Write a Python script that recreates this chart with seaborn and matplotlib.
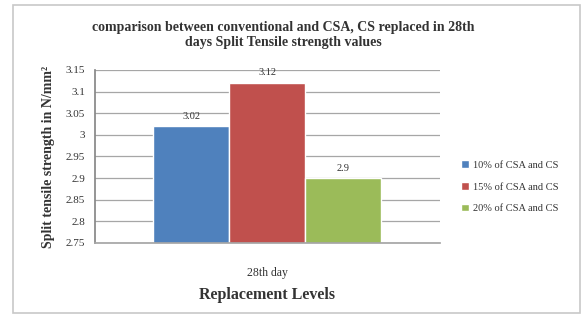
import matplotlib
matplotlib.use('Agg')
import matplotlib.pyplot as plt
import pandas as pd
import seaborn as sns
from matplotlib.patches import Rectangle

# Chart data
categories = ['28th day']
series_labels = ['10% of CSA and CS', '15% of CSA and CS', '20% of CSA and CS']
values = [3.02, 3.12, 2.9]
colors = ['#4F81BD', '#C0504D', '#9BBB59']
y_ticks = [2.75, 2.8, 2.85, 2.9, 2.95, 3, 3.05, 3.1, 3.15]
y_tick_labels = ['2.75', '2.8', '2.85', '2.9', '2.95', '3', '3.05', '3.1', '3.15']

df = pd.DataFrame({'day': categories * len(series_labels),
                   'level': series_labels,
                   'value': values})

sns.set_theme(style='white')
plt.rcParams['font.family'] = ['Liberation Serif', 'DejaVu Serif']

fig = plt.figure(figsize=(5.85, 3.18), dpi=100)
ax = fig.add_axes([0.162, 0.236, 0.59, 0.544])

# light border around the whole chart
fig.patches.append(Rectangle((0.022, 0.016), 0.97, 0.968, transform=fig.transFigure,
                             fill=False, edgecolor='#c8c8c8', linewidth=1.2))

sns.barplot(data=df, x='day', y='value', hue='level', palette=colors,
            width=0.66, saturation=1, ax=ax, legend=True)

ax.set_ylim(2.75, 3.15)
ax.set_xlim(-0.5, 0.5)
ax.set_yticks(y_ticks)
ax.set_yticklabels(y_tick_labels, fontsize=8, color='#333333')
ax.tick_params(axis='y', length=4, width=0.8, color='#888888', pad=3)
ax.tick_params(axis='x', length=0, labelsize=8.5, colors='#333333', pad=17)
ax.yaxis.grid(True, color='#a6a6a6', linewidth=0.9)
ax.set_axisbelow(True)
for s in ['top', 'right']:
    ax.spines[s].set_visible(False)
ax.spines['left'].set_color('#888888')
ax.spines['bottom'].set_color('#a6a6a6')

for p, v in zip(ax.patches, values):
    ax.annotate(str(v), (p.get_x() + p.get_width() / 2, p.get_height()),
                xytext=(0, 4), textcoords='offset points',
                ha='center', va='bottom', fontsize=7.5, color='#333333')

ax.set_xlabel('Replacement Levels', fontsize=11.5, fontweight='bold', labelpad=6, color='#333333')
ax.set_ylabel('Split tensile strength in N/mm²', fontsize=10, fontweight='bold', labelpad=8, color='#333333')
fig.text(0.485, 0.89, 'comparison between conventional and CSA, CS replaced in 28th\ndays Split Tensile strength values',
         ha='center', va='center', fontsize=10, fontweight='bold', color='#333333', linespacing=1.2)

leg = ax.legend(loc='center left', bbox_to_anchor=(1.05, 0.324), frameon=False,
                fontsize=7.5, handlelength=0.7, handleheight=0.7, handletextpad=0.4,
                labelspacing=1.2, borderaxespad=0)
for t in leg.get_texts():
    t.set_color('#333333')

fig.savefig('out.png', dpi=100)
